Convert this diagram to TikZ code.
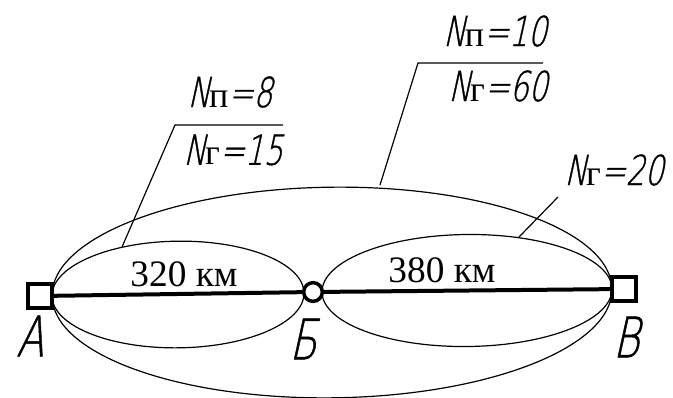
\documentclass[tikz,border=0pt]{standalone}
\usepackage{fontspec}
\setmainfont{Liberation Serif}
\IfFontExistsTF{DejaVu Sans ExtraLight}
  {\newfontfamily\gost[FakeSlant=0.22,FakeStretch=0.72,FakeBold=0.8]{DejaVu Sans ExtraLight}}
  {\newfontfamily\gost[FakeSlant=0.22,FakeStretch=0.78]{Liberation Sans}}
\newcommand{\gostN}[2]{{\gost N}\kern-0.5pt{\rmfamily\fontsize{27}{30}\selectfont #1}{\gost =#2}}
\begin{document}
\begin{tikzpicture}[x=0.75pt,y=-0.75pt,
  station/.style={draw,line width=2.6pt,minimum size=18pt,inner sep=0pt},
  hub/.style={draw,circle,line width=2.6pt,minimum size=14pt,inner sep=0pt},
  route/.style={line width=0.9pt},
  leader/.style={line width=0.9pt},
  flow/.style={font=\gost\fontsize{31}{34}\selectfont,inner sep=0pt},
  city/.style={font=\gost\fontsize{42}{46}\selectfont,inner sep=0pt},
  dist/.style={font=\rmfamily\fontsize{28}{30}\selectfont,inner sep=0pt}]
\useasboundingbox (0,0) rectangle (673,397);
% stations
\node[station] (A) at (40,296) {};
\node[hub] (B) at (313,292) {};
\node[station] (V) at (624,289) {};
% routes (ellipses)
\draw[route,rotate around={0.7:(332,292.5)}] (332,292.5) ellipse [x radius=210pt, y radius=79pt];
\draw[route,rotate around={0.7:(178,294.5)}] (178,294.5) ellipse [x radius=94.5pt, y radius=40pt];
\draw[route,rotate around={0.6:(467,290.5)}] (467,290.5) ellipse [x radius=108.75pt, y radius=42pt];
% main line
\draw[line width=3pt] (A) -- (B) -- (V);
% distances
\node[dist] (d1) at (184,274) {320 км};
\node[dist] (d2) at (442,270) {380 км};
% city labels
\node[city] (lA) at (30,336) {А};
\node[city] (lB) at (303,339) {Б};
\node[city] (lV) at (626,337) {В};
% flow labels
\node[flow] (f1) at (230,92) {\gostN{п}{8}};
\node[flow] (f2) at (233,150) {\gostN{г}{15}};
\node[flow] (f3) at (495,31) {\gostN{п}{10}};
\node[flow] (f4) at (498,86) {\gostN{г}{60}};
\node[flow] (f5) at (614,170) {\gostN{г}{20}};
% leaders
\coordinate (s1) at (175,125);
\coordinate (e1) at (283,125);
\coordinate (t1) at (122,247);
\draw[leader] (e1) -- (s1) -- (t1);
\coordinate (s2) at (418,63);
\coordinate (e2) at (543,63);
\coordinate (t2) at (380,185);
\draw[leader] (e2) -- (s2) -- (t2);
\coordinate (s3) at (558,197);
\coordinate (t3) at (519,237);
\draw[leader] (s3) -- (t3);
\end{tikzpicture}
\end{document}
